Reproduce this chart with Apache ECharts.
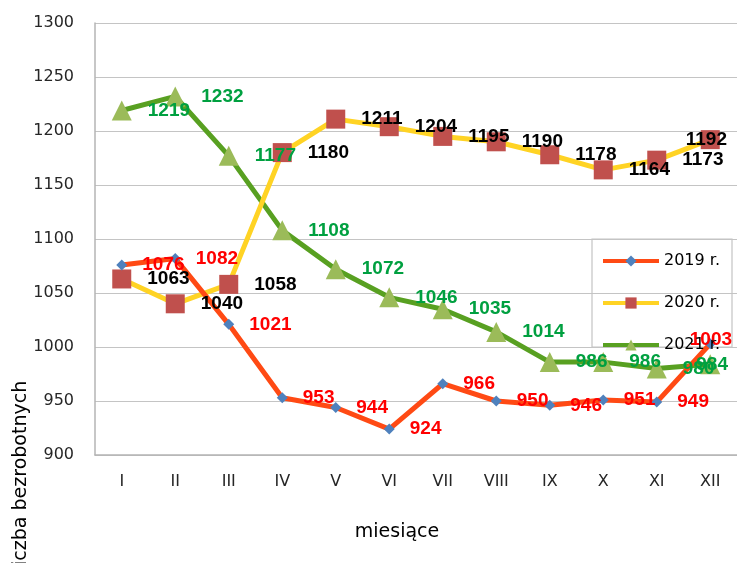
<!DOCTYPE html>
<html>
<head>
<meta charset="utf-8">
<script src="https://cdn.jsdelivr.net/npm/echarts@6/dist/echarts.min.js"></script>
<style>
html,body{margin:0;padding:0;background:#fff;}
#chart{width:737px;height:563px;}
</style>
</head>
<body>
<div id="chart"></div>
<script>
// ---- data ----
const categories = ['I','II','III','IV','V','VI','VII','VIII','IX','X','XI','XII'];
const values2019 = [1076,1082,1021,953,944,924,966,950,946,951,949,1003];
const values2020 = [1063,1040,1058,1180,1211,1204,1195,1190,1178,1164,1173,1192];
const values2021 = [1219,1232,1177,1108,1072,1046,1035,1014,986,986,980,984];
const seriesNames = ['2019 r.','2020 r.','2021 r.'];
const yMin = 900, yMax = 1300, yStep = 50;
const xTitle = 'miesiące';
const yTitle = 'liczba bezrobotnych';

const axisFont = 'DejaVu Sans';
const labelFont = 'Liberation Sans';

function makeSeries(name, values, opt) {
  const last = values.length - 1;
  return {
    name: name,
    type: 'line',
    data: values.map((v, i) => i === last ? { value: v, label: { offset: opt.lastOffset } } : v),
    symbol: opt.symbol,
    symbolSize: opt.size,
    showAllSymbol: true,
    lineStyle: { color: opt.lineColor, width: 5 },
    itemStyle: { color: opt.symColor, borderWidth: 0 },
    z: opt.z,
    label: {
      show: true,
      position: 'right',
      distance: opt.distance,
      color: opt.labelColor,
      fontFamily: labelFont,
      fontWeight: 'bold',
      fontSize: 19
    },
    emphasis: { disabled: true },
    animation: false
  };
}

const chart = echarts.init(document.getElementById('chart'), null, { renderer: 'canvas' });
chart.setOption({
  animation: false,
  backgroundColor: '#ffffff',
  grid: { left: 95, top: 23, width: 656, height: 432, containLabel: false },
  xAxis: {
    type: 'category',
    data: categories,
    boundaryGap: true,
    axisLine: { show: true, lineStyle: { color: '#B4B4B4', width: 1.5 } },
    axisTick: { show: false },
    axisLabel: { color: '#262626', fontFamily: axisFont, fontSize: 16, margin: 19 },
    splitLine: { show: false }
  },
  yAxis: {
    type: 'value',
    min: yMin, max: yMax, interval: yStep,
    axisLine: { show: true, lineStyle: { color: '#B4B4B4', width: 1.5 } },
    axisTick: { show: false },
    axisLabel: { color: '#262626', fontFamily: axisFont, fontSize: 16, margin: 21, formatter: v => String(v) },
    splitLine: { show: true, lineStyle: { color: '#C4C4C4', width: 1.2 } }
  },
  legend: {
    data: seriesNames,
    orient: 'vertical',
    left: 601, top: 253,
    padding: 0,
    itemWidth: 56, itemHeight: 14, itemGap: 26,
    lineStyle: { width: 4 },
    textStyle: { fontFamily: axisFont, fontSize: 16, color: '#000', lineHeight: 14 },
    selectedMode: false
  },
  graphic: [
    { type: 'rect', shape: { x: 592, y: 239, width: 140, height: 108 },
      style: { fill: 'none', stroke: '#C4C4C4', lineWidth: 1.2 }, z: 1 },
    { type: 'text', x: 397, y: 532,
      style: { text: xTitle, fontFamily: axisFont, fontSize: 19, fill: '#000', align: 'center', verticalAlign: 'middle' } },
    { type: 'text', x: 21, y: 476, rotation: Math.PI / 2,
      style: { text: yTitle, fontFamily: axisFont, fontSize: 19, fill: '#000', align: 'center', verticalAlign: 'middle' } }
  ],
  series: [
    makeSeries(seriesNames[2], values2021, { lineColor: '#58A021', symbol: 'triangle', size: 20, symColor: '#9BBB59', labelColor: '#00A040', distance: 16, lastOffset: [-40, 0], z: 2 }),
    makeSeries(seriesNames[1], values2020, { lineColor: '#FFD324', symbol: 'rect', size: 19, symColor: '#C0504D', labelColor: '#000000', distance: 16, lastOffset: [-50, 0], z: 2 }),
    makeSeries(seriesNames[0], values2019, { lineColor: '#FF4A14', symbol: 'diamond', size: 11, symColor: '#4F81BD', labelColor: '#FF0000', distance: 15, lastOffset: [-41, -4], z: 2 })
  ]
});
</script>
</body>
</html>
